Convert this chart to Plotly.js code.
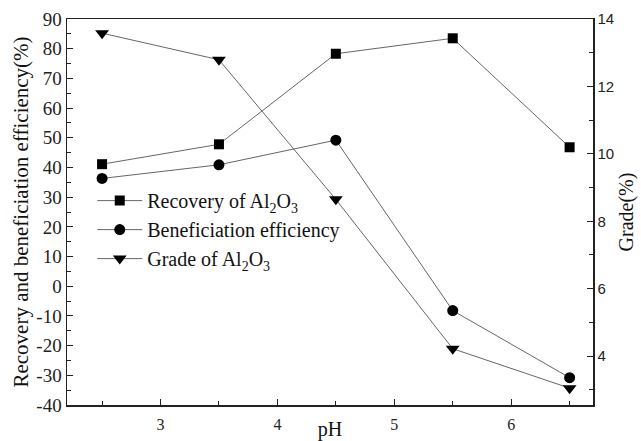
<!DOCTYPE html>
<html><head><meta charset="utf-8">
<script src="https://cdn.plot.ly/plotly-3.0.1.min.js"></script>
<style>body{margin:0;background:#fff}#c{width:641px;height:441px}</style>
</head><body><div id="c"></div>
<script>
const pH = [2.5, 3.5, 4.5, 5.5, 6.5];
const recovery = [41.1, 47.8, 78.3, 83.5, 46.8];
const beneficiation = [36.3, 40.9, 49.2, -8.2, -30.8];
const grade = [13.58, 12.79, 8.65, 4.22, 3.05];
const leftTicks = [-40, -30, -20, -10, 0, 10, 20, 30, 40, 50, 60, 70, 80, 90];
const leftTickLabels = leftTicks.map(String);

const lineStyle = {color: '#666', width: 1};
const traces = [
  {x: pH, y: recovery, name: 'Recovery of Al<sub>2</sub>O<sub>3</sub>', mode: 'lines+markers',
   line: lineStyle, marker: {symbol: 'square', size: 10, color: '#000'}},
  {x: pH, y: beneficiation, name: 'Beneficiation efficiency', mode: 'lines+markers',
   line: lineStyle, marker: {symbol: 'circle', size: 11, color: '#000'}},
  {x: pH, y: grade, name: 'Grade of Al<sub>2</sub>O<sub>3</sub>', mode: 'lines+markers', yaxis: 'y2',
   line: lineStyle, marker: {symbol: 'triangle-down', size: 12, color: '#000'}}
];
const serif = 'Liberation Serif, Times New Roman, serif';
const sans = 'Liberation Sans, Arial, sans-serif';
const layout = {
  width: 641, height: 441,
  margin: {l: 67, r: 48, t: 19, b: 36},
  paper_bgcolor: '#fff', plot_bgcolor: '#fff',
  showlegend: true,
  legend: {x: 0.048, y: 0.58, xanchor: 'left', yanchor: 'top', bgcolor: 'rgba(0,0,0,0)',
           itemwidth: 45, tracegroupgap: 0,
           font: {family: serif, size: 20, color: '#111'}},
  xaxis: {range: [2.2, 6.7], dtick: 1, tick0: 0, ticks: 'inside', ticklen: 6, tickcolor: '#222',
          minor: {dtick: 0.5, ticks: 'inside', ticklen: 4, tickcolor: '#222'},
          showline: true, linecolor: '#222', linewidth: 1.5, mirror: true, showgrid: false, zeroline: false,
          ticklabelstandoff: 4,
          tickfont: {family: serif, size: 16, color: '#222'},
          title: {text: 'pH', font: {family: serif, size: 20, color: '#111'}, standoff: 0}},
  yaxis: {range: [-40, 90], tickmode: 'array', tickvals: leftTicks, ticktext: leftTickLabels,
          ticks: 'inside', ticklen: 6, tickcolor: '#222',
          minor: {dtick: 5, ticks: 'inside', ticklen: 4, tickcolor: '#222'},
          showline: true, linecolor: '#222', linewidth: 1.5, mirror: true, showgrid: false, zeroline: false,
          tickfont: {family: serif, size: 19, color: '#222'},
          title: {text: 'Recovery and beneficiation efficiency(%)', font: {family: serif, size: 21, color: '#111'}, standoff: 2}},
  yaxis2: {overlaying: 'y', side: 'right', range: [2.55, 14], tick0: 0, dtick: 2, ticks: 'inside', ticklen: 6, tickcolor: '#222',
          minor: {dtick: 1, ticks: 'inside', ticklen: 4, tickcolor: '#222'},
          showline: true, linecolor: '#222', linewidth: 1.5, showgrid: false, zeroline: false,
          tickfont: {family: sans, size: 15, color: '#222'},
          title: {text: 'Grade(%)', font: {family: serif, size: 20, color: '#111'}, standoff: 6}}
};
Plotly.newPlot('c', traces, layout, {displayModeBar: false, staticPlot: true});
</script></body></html>
